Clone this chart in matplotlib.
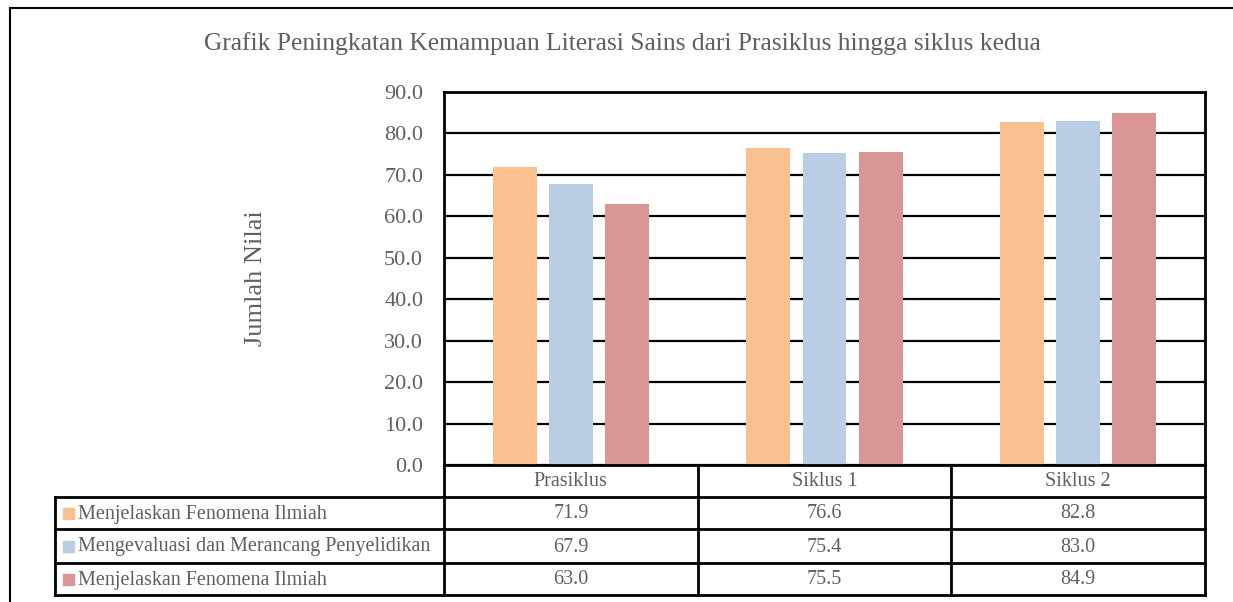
import matplotlib
matplotlib.use("Agg")
import matplotlib.pyplot as plt
import numpy as np
from matplotlib.lines import Line2D
from matplotlib.patches import Rectangle

plt.rcParams['font.family'] = ['Liberation Serif', 'DejaVu Serif']

# data
categories = ['Prasiklus', 'Siklus 1', 'Siklus 2']
series_names = ['Menjelaskan Fenomena Ilmiah',
                'Mengevaluasi dan Merancang Penyelidikan',
                'Menjelaskan Fenomena Ilmiah']
menjelaskan_1 = [71.9, 76.6, 82.8]
mengevaluasi = [67.9, 75.4, 83.0]
menjelaskan_2 = [63.0, 75.5, 84.9]
series_values = [menjelaskan_1, mengevaluasi, menjelaskan_2]
colors = ['#FAC08F', '#B9CDE5', '#D99694']

title = 'Grafik Peningkatan Kemampuan Literasi Sains dari Prasiklus hingga siklus kedua'
ylabel = 'Jumlah Nilai'
text_col = '#5f5f5f'

W, H = 1233, 602
fig = plt.figure(figsize=(W / 100, H / 100), dpi=100)

# pixel layout
px_left, px_right, px_top, px_bottom = 444, 1205, 92, 465
ax = fig.add_axes([px_left / W, 1 - px_bottom / H,
                   (px_right - px_left) / W, (px_bottom - px_top) / H])

x = np.arange(len(categories))
bw = 0.173
step = 0.221
for i, vals in enumerate(series_values):
    ax.bar(x + (i - 1) * step, vals, width=bw, color=colors[i], zorder=3)

ax.set_xlim(-0.5, len(categories) - 0.5)
ax.set_ylim(0, 90)
ax.set_yticks(np.arange(0, 91, 10))
ax.set_yticklabels([f'{v:.1f}' for v in np.arange(0, 91, 10)],
                   fontsize=16, color=text_col)
ax.tick_params(axis='y', length=0, pad=15)
ax.set_xticks([])
ax.grid(axis='y', color='black', linewidth=1.6, zorder=1)
for s in ax.spines.values():
    s.set_color('black')
    s.set_linewidth(2)
ax.spines['bottom'].set_visible(False)

# overlay in pixel coords for title, label, table
ov = fig.add_axes([0, 0, 1, 1], zorder=5)
ov.set_xlim(0, W)
ov.set_ylim(H, 0)
ov.axis('off')
ov.patch.set_alpha(0)

ov.text(622, 44, title, ha='center', va='center', fontsize=18.4, color=text_col)
ov.text(256, 278, ylabel, ha='center', va='center', rotation=90,
        fontsize=19, color=text_col)

# outer chart frame (cropped on right and bottom)
ov.add_line(Line2D([10, W], [8, 8], color='black', lw=1.5))
ov.add_line(Line2D([10, 10], [8, H], color='black', lw=1.5))

# table
col_edges = np.linspace(px_left, px_right, len(categories) + 1)
row_edges = [465, 497, 529, 563, 595]
lab_left = 55
lw = 2
# header row
ov.add_line(Line2D([px_left, px_right], [row_edges[0]] * 2, color='black', lw=lw))
for r in row_edges[1:]:
    ov.add_line(Line2D([lab_left, px_right], [r, r], color='black', lw=lw))
for c in col_edges:
    ov.add_line(Line2D([c, c], [row_edges[0], row_edges[-1]], color='black', lw=lw))
ov.add_line(Line2D([lab_left, lab_left], [row_edges[1], row_edges[-1]], color='black', lw=lw))

tfs = 14.5
for j, cat in enumerate(categories):
    cx = (col_edges[j] + col_edges[j + 1]) / 2
    ov.text(cx, (row_edges[0] + row_edges[1]) / 2 + 1, cat, ha='center', va='center',
            fontsize=tfs, color=text_col)
for i, (name, vals) in enumerate(zip(series_names, series_values)):
    cy = (row_edges[i + 1] + row_edges[i + 2]) / 2
    ov.add_patch(Rectangle((63, cy - 5.5), 11, 11, color=colors[i]))
    ov.text(78, cy + 1, name, ha='left', va='center', fontsize=tfs, color=text_col)
    for j, v in enumerate(vals):
        cx = (col_edges[j] + col_edges[j + 1]) / 2
        ov.text(cx, cy + 1, f'{v:.1f}', ha='center', va='center',
                fontsize=tfs, color=text_col)

fig.savefig('out.png', dpi=100)
